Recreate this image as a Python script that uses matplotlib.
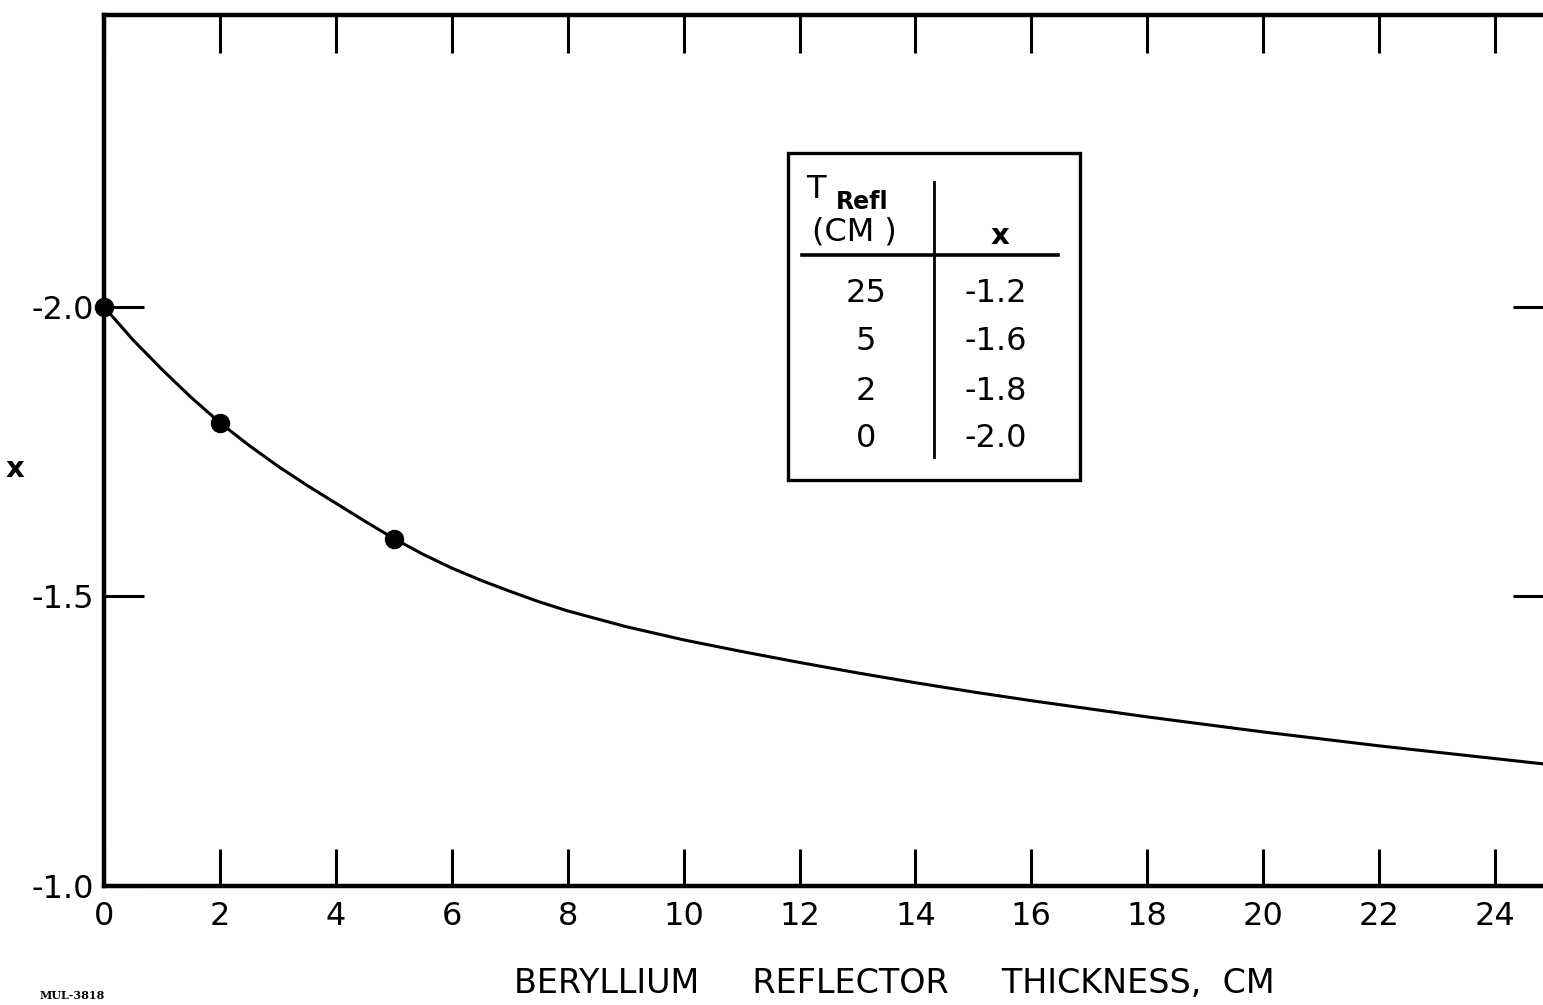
import numpy as np
import matplotlib
matplotlib.use("Agg")
import matplotlib.pyplot as plt
from matplotlib.patches import Rectangle
from matplotlib.lines import Line2D

# curve (thickness cm, x)
curve_t = [0, 0.5, 1, 1.5, 2, 2.5, 3, 3.5, 4, 4.5, 5, 5.5, 6, 6.5, 7, 7.5, 8, 9, 10,
           11, 12, 13, 14, 15, 16, 17, 18, 19, 20, 21, 22, 23, 24, 25]
curve_x = [-2.000, -1.943, -1.892, -1.844, -1.800, -1.761, -1.725, -1.692, -1.661,
           -1.630, -1.600, -1.573, -1.549, -1.528, -1.509, -1.491, -1.475, -1.448,
           -1.425, -1.405, -1.386, -1.368, -1.351, -1.335, -1.320, -1.306, -1.292,
           -1.279, -1.266, -1.254, -1.242, -1.231, -1.220, -1.209]

# measured points
pts_t = [0, 2, 5]
pts_x = [-2.0, -1.8, -1.6]

# inset table
table_t = ["25", "5", "2", "0"]
table_x = ["-1.2", "-1.6", "-1.8", "-2.0"]

xticks = list(range(0, 25, 2))
xtick_labels = [str(v) for v in xticks]
yticks = [-2.0, -1.5, -1.0]
ytick_labels = ["-2.0", "-1.5", "-1.0"]

W, H = 1543, 1005
fig = plt.figure(figsize=(W / 100, H / 100), dpi=100)
fig.patch.set_facecolor("white")


def fx(px):
    return px / W


def fy(py):
    return 1 - py / H


left, right, top, bottom = 104, 104 + 25 * 57.96, 15, 886
ax = fig.add_axes([fx(left), fy(bottom), (right - left) / W, (bottom - top) / H])
ax.set_xlim(0, 25)
ax.set_ylim(-1.0, -2.504)

ax.plot(curve_t, curve_x, color="black", lw=2.2, solid_capstyle="round",
        solid_joinstyle="round")
ax.plot(pts_t, pts_x, "o", color="black", ms=13, clip_on=False, zorder=5)

for s in ax.spines.values():
    s.set_linewidth(3.2)
    s.set_color("black")

ax.set_xticks(xticks)
ax.set_xticklabels(xtick_labels)
ax.set_yticks(yticks)
ax.set_yticklabels(ytick_labels)
ax.tick_params(axis="x", direction="in", length=27, width=2.2, top=True,
               labelsize=23, pad=11)
ax.tick_params(axis="y", direction="in", length=29, width=2.2, right=True,
               labelsize=23, pad=7)

ax.set_ylabel("x", rotation=0, fontsize=21, fontweight="bold")
ax.yaxis.set_label_coords((15 - left) / (right - left), (bottom - 483) / (bottom - top))

fig.text(fx(894), fy(983), "BERYLLIUM     REFLECTOR     THICKNESS,  CM",
         ha="center", va="center", fontsize=24)
fig.text(fx(40), fy(995), "MUL-3818", ha="left", va="center", fontsize=8,
         family="serif", fontweight="bold")

# table box
fig.patches.append(Rectangle((fx(788), fy(480)), (1080 - 788) / W, (480 - 153) / H,
                             transform=fig.transFigure, fill=False, lw=2.4,
                             edgecolor="black"))
fig.lines.append(Line2D([fx(934), fx(934)], [fy(182), fy(457)],
                        transform=fig.transFigure, color="black", lw=2.0))
fig.lines.append(Line2D([fx(802), fx(1058)], [fy(255), fy(255)],
                        transform=fig.transFigure, color="black", lw=2.6))
fig.text(fx(806), fy(189), "T", ha="left", va="center", fontsize=23)
fig.text(fx(836), fy(202), "Refl", ha="left", va="center", fontsize=17,
         fontweight="bold")
fig.text(fx(854), fy(232), "(CM )", ha="center", va="center", fontsize=23)
fig.text(fx(1000), fy(236), "x", ha="center", va="center", fontsize=21,
         fontweight="bold")
row_y = [293, 342, 392, 438]
for t, v, y in zip(table_t, table_x, row_y):
    fig.text(fx(866), fy(y), t, ha="center", va="center", fontsize=23)
    fig.text(fx(996), fy(y), v, ha="center", va="center", fontsize=23)

fig.savefig("out.png", dpi=100, facecolor="white")
